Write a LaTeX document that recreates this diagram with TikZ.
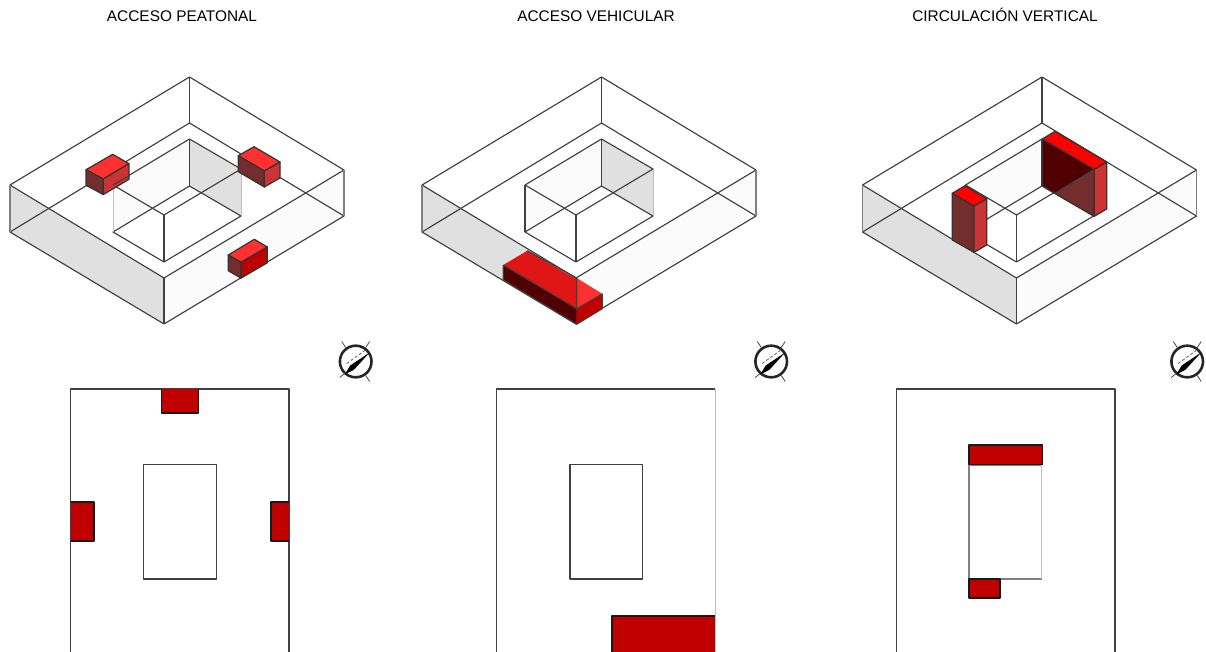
\documentclass[tikz,border=0pt]{standalone}
\usepackage{fontspec}
\setmainfont{Liberation Sans}
\usepackage{xcolor}
\usetikzlibrary{positioning}
\definecolor{wallgrey}{HTML}{E0E0E0}
\definecolor{wallpale}{HTML}{FBFBFB}
\definecolor{redtop}{HTML}{FF3030}
\definecolor{redpure}{HTML}{FF0000}
\definecolor{redmid}{HTML}{E01515}
\definecolor{redside}{HTML}{CC3333}
\definecolor{redfull}{HTML}{C00000}
\definecolor{brownside}{HTML}{732D2D}
\definecolor{darkside}{HTML}{500000}
\begin{document}
\begin{tikzpicture}[x=1pt,y=-1pt,line join=round,
  edge/.style={draw=black!75,line width=1.15pt},
  soft/.style={draw=black!50,line width=1.1pt},
  hair/.style={draw=black!25,line width=1pt},
  block/.style={draw=black!80,line width=1.2pt},
  planred/.style={fill=redfull},
  planline/.style={draw=black!90,line width=1.4pt},
  title/.style={font=\fontsize{15.4}{18}\selectfont,anchor=base}]
\useasboundingbox (0,0) rectangle (1206,652);
\clip (0,0) rectangle (1206,652);
\node[title] (t1) at (182,22) {ACCESO PEATONAL};
\node[title] (t2) at (596,22) {ACCESO VEHICULAR};
\node[title] (t3) at (1005,22) {CIRCULACIÓN VERTICAL};
% massing models
\foreach \dx in {0,412,852.5}{
\begin{scope}[xshift=\dx pt]
  \fill[wallgrey] (10,185)--(164,278)--(164,324)--(10,232)--cycle;
  \fill[wallpale] (164,278)--(344,170)--(344,216)--(164,324)--cycle;
  \fill[wallpale] (113,185)--(189.5,139)--(189.5,186)--(113,232)--cycle;
  \fill[wallgrey] (189.5,139)--(241,169)--(241,216)--(189.5,186)--cycle;
  \draw[edge] (189.5,77)--(344,170)--(164,278)--(10,185)--cycle;
  \draw[edge] (189.5,123)--(344,216)--(164,324)--(10,232)--cycle;
  \draw[edge] (164,278)--(164,324) (189.5,77)--(189.5,123);
  \draw[soft] (10,185)--(10,232) (344,170)--(344,216);
  \draw[edge] (189.5,139)--(241,169)--(164,215)--(113,185)--cycle;
  \draw[edge] (189.5,186)--(241,216)--(164,262)--(113,232)--cycle;
  \draw[edge] (189.5,139)--(189.5,186) (164,215)--(164,262);
  \draw[hair] (241,169)--(241,216);
\end{scope}}
\draw[hair] (113,185)--(113,232);
\draw[edge] (525,185)--(525,232);
% peatonal blocks
\foreach \ax/\ay/\bx/\by/\cx/\cy/\ex/\ey/\h/\cleft/\cright in {
  112.7/154.3/129/163.7/103.3/179/86/169.7/15.6/brownside/redside,
  254/146.7/280/162/264.3/171/238.3/155.7/16/brownside/redside,
  254.3/239.3/267.3/247/241/262.3/228.3/255/15.8/brownside/redfull}{
  \draw[block,fill=redtop] (\ax,\ay)--(\bx,\by)--(\cx,\cy)--(\ex,\ey)--cycle;
  \draw[block,fill=\cleft] (\ex,\ey)--(\cx,\cy)--(\cx,\cy+\h)--(\ex,\ey+\h)--cycle;
  \draw[block,fill=\cright] (\cx,\cy)--(\bx,\by)--(\bx,\by+\h)--(\cx,\cy+\h)--cycle;
}
\draw[edge] (113,185)--(129,176);
\draw[edge] (241,169)--(238.3,170.5);
% vehicular block
\fill[redmid] (527.3,250.7)--(602.3,294)--(576.7,308.7)--(503.3,265)--cycle;
\fill[redtop] (576.7,278)--(602.3,294)--(576.7,308.7)--cycle;
\fill[darkside] (503.3,265)--(576.7,308.7)--(576.7,324.3)--(503.3,280)--cycle;
\fill[redfull] (576.7,308.7)--(602.3,294)--(602.3,308.7)--(576.7,324.3)--cycle;
\draw[edge] (527.3,250.7)--(576.7,278)--(576.7,308.7) (503.3,265)--(576.7,308.7)--(602.3,294)--(602.3,308.7);
\draw[edge] (503.3,265)--(503.3,280)--(576.7,324.3)--(602.3,308.7);
% circulacion blocks
\fill[darkside] (1042.3,139)--(1094.3,169.3)--(1055,193.3)--(1042.3,186)--cycle;
\fill[brownside] (1094.3,169.3)--(1094.3,216.3)--(1055,193.3)--cycle;
\draw[block] (1042.3,139)--(1094.3,169.3)--(1094.3,216.3)--(1042.3,186)--cycle;
\draw[edge] (1094.3,169.3)--(1055,193.3);
\draw[block,fill=redside] (1094.3,169.3)--(1106.7,162)--(1106.7,209)--(1094.3,216.3)--cycle;
\draw[block,fill=redpure] (1055,131.3)--(1106.7,162)--(1094.3,169.3)--(1042.3,139)--cycle;
\draw[block,fill=brownside] (952.3,193.3)--(974,206)--(974,252.3)--(952.3,240)--cycle;
\draw[block,fill=redside] (974,206)--(986.7,198.7)--(986.7,245)--(974,252.3)--cycle;
\draw[block,fill=redpure] (965,185.7)--(986.7,198.7)--(974,206)--(952.3,193.3)--cycle;
% north marks
\foreach \nx in {355.7,771.2,1187.2}{
  \draw[black!85,line width=2.6pt] (\nx,361.5) circle (15.8);
  \draw[black!65,line width=0.9pt] (\nx-14,361.5-20)--(\nx-10,361.5-14) (\nx+14,361.5-20)--(\nx+10,361.5-14)
    (\nx-16,361.5+16)--(\nx-11,361.5+12) (\nx+14,361.5+20)--(\nx+10,361.5+14);
  \draw[black!60,line width=0.8pt,densely dashed] (\nx-9,361.5+2)--(\nx+9,361.5-11);
  \fill (\nx+14,361.5-9)--(\nx-5.5,361.5+4)--(\nx-11,361.5+13)--(\nx-2,361.5+8.5)--cycle;
}
% plans
\draw[edge] (70.7,652)--(70.7,389)--(289,389)--(289,652);
\draw[edge] (143.3,464.3) rectangle (216.7,579);
\fill[planred] (161.3,389) rectangle (198.5,413);
\draw[planline] (161.3,389)--(161.3,413)--(198.5,413)--(198.5,389);
\fill[planred] (70.7,502) rectangle (94,541);
\draw[planline] (70.7,502)--(94,502)--(94,541)--(70.7,541);
\fill[planred] (271,502) rectangle (289,541);
\draw[planline] (289,502)--(271,502)--(271,541)--(289,541);
\draw[edge] (496.7,652)--(496.7,389)--(715,389);
\draw[hair] (715,389)--(715,652);
\draw[edge] (570,464.3) rectangle (642.5,579);
\fill[planred] (612,616) rectangle (714.5,652);
\draw[planline] (612,652)--(612,616)--(714.5,616);
\draw[edge] (896.7,652)--(896.7,389)--(1115,389)--(1115,652);
\draw[soft] (1041.7,465)--(969,465)--(969,579)--(1041.7,579);
\draw[hair] (1041.7,465)--(1041.7,579);
\draw[planline,planred] (969,445) rectangle (1042.7,464.7);
\draw[planline,planred,line width=1.1pt] (969,579) rectangle (1000,598);
\end{tikzpicture}
\end{document}
